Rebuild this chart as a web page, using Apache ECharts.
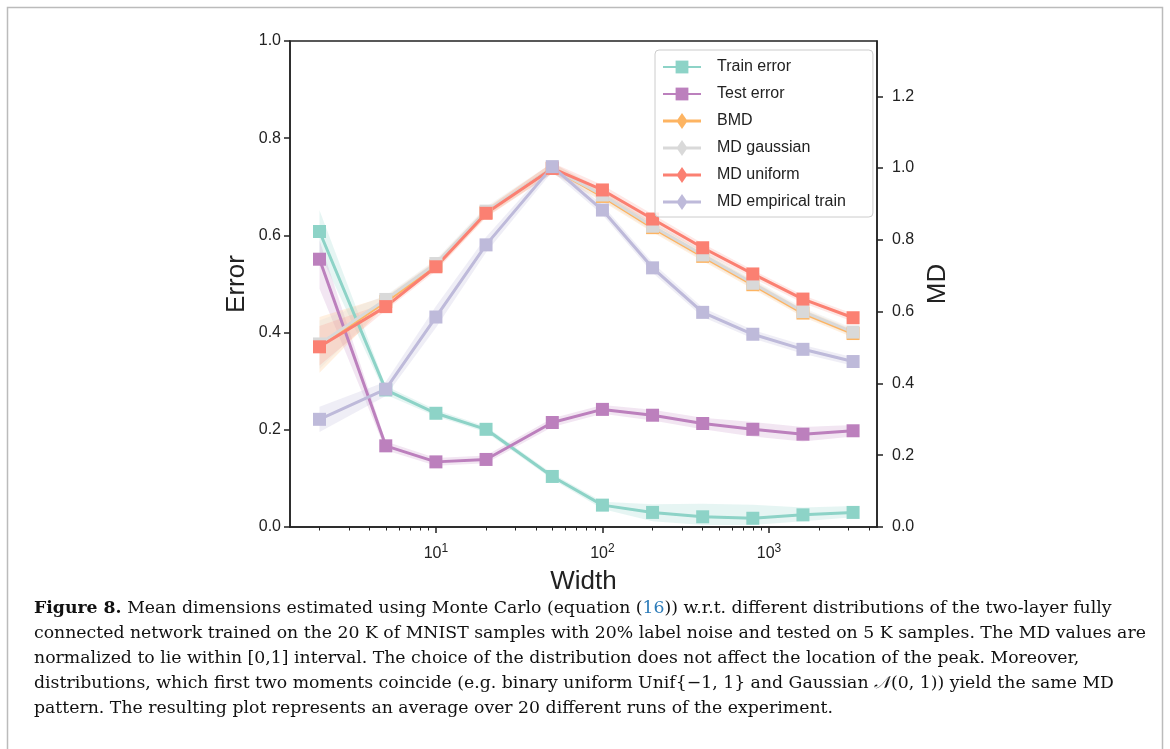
<!DOCTYPE html>
<html>
<head>
<meta charset="utf-8">
<script src="https://cdn.jsdelivr.net/npm/echarts@6/dist/echarts.min.js"></script>
<style>
  html, body { margin: 0; padding: 0; background: #fff; }
  #chart { width: 1170px; height: 749px; }
</style>
</head>
<body>
<div id="chart"></div>
<script>
// widths (x, log scale)
const widths = [2, 5, 10, 20, 50, 100, 200, 400, 800, 1600, 3200];

// error curves (left axis)
const trainError = [0.608, 0.282, 0.234, 0.201, 0.104, 0.045, 0.030, 0.021, 0.018, 0.025, 0.030];
const trainLo    = [0.565, 0.272, 0.228, 0.195, 0.098, 0.037, 0.012, 0.004, 0.004, 0.012, 0.020];
const trainHi    = [0.652, 0.290, 0.241, 0.207, 0.110, 0.052, 0.047, 0.048, 0.046, 0.040, 0.043];
const testError  = [0.551, 0.167, 0.134, 0.139, 0.215, 0.242, 0.230, 0.213, 0.201, 0.191, 0.198];
const testLo     = [0.490, 0.158, 0.126, 0.131, 0.206, 0.233, 0.219, 0.201, 0.186, 0.176, 0.186];
const testHi     = [0.590, 0.176, 0.142, 0.147, 0.224, 0.251, 0.241, 0.225, 0.216, 0.206, 0.210];

// MD curves (right axis)
const bmd         = [0.505, 0.628, 0.728, 0.876, 1.000, 0.921, 0.834, 0.754, 0.675, 0.596, 0.539];
const bmdLo       = [0.430, 0.618, 0.717, 0.864, 0.985, 0.907, 0.821, 0.741, 0.663, 0.585, 0.528];
const bmdHi       = [0.585, 0.642, 0.742, 0.888, 1.015, 0.935, 0.847, 0.767, 0.687, 0.607, 0.550];
const mdGauss     = [0.510, 0.634, 0.734, 0.880, 1.000, 0.925, 0.838, 0.758, 0.679, 0.600, 0.543];
const gaussLo     = [0.440, 0.622, 0.720, 0.868, 0.985, 0.910, 0.825, 0.745, 0.667, 0.589, 0.532];
const gaussHi     = [0.575, 0.645, 0.745, 0.892, 1.015, 0.940, 0.851, 0.771, 0.691, 0.611, 0.554];
const mdUniform   = [0.502, 0.614, 0.725, 0.874, 0.999, 0.939, 0.858, 0.778, 0.705, 0.635, 0.583];
const uniformLo   = [0.450, 0.604, 0.713, 0.862, 0.985, 0.925, 0.845, 0.766, 0.694, 0.624, 0.572];
const uniformHi   = [0.560, 0.624, 0.737, 0.886, 1.015, 0.953, 0.871, 0.790, 0.716, 0.646, 0.594];
const mdEmpirical = [0.300, 0.384, 0.585, 0.786, 1.004, 0.883, 0.722, 0.598, 0.537, 0.495, 0.461];
const empiricalLo = [0.265, 0.365, 0.555, 0.765, 0.990, 0.870, 0.708, 0.585, 0.525, 0.483, 0.449];
const empiricalHi = [0.335, 0.405, 0.615, 0.808, 1.015, 0.897, 0.736, 0.611, 0.549, 0.507, 0.473];

// ticks
const xMajorTicks = [10, 100, 1000];
const xMinorTicks = [2, 3, 4, 5, 6, 7, 8, 9, 20, 30, 40, 50, 60, 70, 80, 90,
                     200, 300, 400, 500, 600, 700, 800, 900, 2000, 3000, 4000];
const leftTicks = [0, 0.2, 0.4, 0.6, 0.8, 1.0];
const rightTicks = [0, 0.2, 0.4, 0.6, 0.8, 1.0, 1.2];

const captionLines = [
  '{b|Figure 8.} Mean dimensions estimated using Monte Carlo (equation ({l|16})) w.r.t. different distributions of the two-layer fully',
  'connected network trained on the 20 K of MNIST samples with 20% label noise and tested on 5 K samples. The MD values are',
  'normalized to lie within [0,1] interval. The choice of the distribution does not affect the location of the peak. Moreover,',
  'distributions, which first two moments coincide (e.g. binary uniform Unif{\u22121, 1} and Gaussian {i|\uD835\uDCA9}(0, 1)) yield the same MD',
  'pattern. The resulting plot represents an average over 20 different runs of the experiment.'
];

const AX = '#222';
const SERIF = '"DejaVu Serif", "Liberation Serif", serif';
const CAP = 17.3;
const pts = arr => widths.map((w, i) => [w, arr[i]]);

// shaded band between lo and hi, drawn once as a polygon through the axes
function band(name, lo, hi, color, yIdx) {
  return {
    type: 'custom', name: name, yAxisIndex: yIdx, silent: true, z: 1, clip: true,
    data: widths.map((w, i) => [w, lo[i], hi[i]]),
    renderItem: function (params, api) {
      if (params.dataIndex !== 0) return null;
      const upper = widths.map((w, i) => api.coord([w, hi[i]]));
      const lower = widths.map((w, i) => api.coord([w, lo[i]])).reverse();
      return {
        type: 'polygon',
        shape: { points: upper.concat(lower) },
        style: { fill: color, stroke: null }
      };
    }
  };
}

function curve(name, arr, color, yIdx) {
  return { type: 'line', name: name, yAxisIndex: yIdx, data: pts(arr),
    symbol: 'rect', symbolSize: 13, color: color,
    lineStyle: { width: 3, color: color }, itemStyle: { color: color },
    emphasis: { disabled: true }, z: 3 };
}

const diamondIcon = 'path://M0,6.5 L38,6.5 L38,9.5 L0,9.5 Z M19,0 L24.5,8 L19,16 L13.5,8 Z';

const graphics = [
  { type: 'rect', shape: { x: 7.5, y: 7.5, width: 1155, height: 760 },
    style: { fill: 'none', stroke: '#bbb', lineWidth: 1.5 }, silent: true }
];
captionLines.forEach((t, i) => {
  graphics.push({
    type: 'text', left: 34, top: 600 + i * 25,
    style: {
      text: t, font: CAP + 'px ' + SERIF, fill: '#111',
      rich: {
        b: { fontWeight: 'bold', fontSize: CAP, fontFamily: SERIF },
        l: { fill: '#2b7bb9', fontSize: CAP, fontFamily: SERIF },
        i: { fontStyle: 'italic', fontSize: CAP, fontFamily: SERIF }
      }
    }
  });
});

const chart = echarts.init(document.getElementById('chart'), null, { renderer: 'canvas' });
chart.setOption({
  animation: false,
  textStyle: { fontFamily: 'Liberation Sans, Arial, sans-serif' },
  grid: [
    { left: 290, right: 293, top: 41, bottom: 222, show: true, borderColor: AX, borderWidth: 1.5,
      outerBoundsMode: 'none' },
    { left: 290, right: 293, top: 41, bottom: 222, show: false, outerBoundsMode: 'none' }
  ],
  legend: {
    orient: 'vertical', left: 655, top: 50, padding: [9, 27, 7, 7],
    itemWidth: 38, itemHeight: 16, itemGap: 11,
    backgroundColor: 'rgba(255,255,255,0.85)', borderColor: '#ccc', borderWidth: 1, borderRadius: 4,
    selectedMode: false,
    textStyle: { fontSize: 16, color: '#222', fontFamily: 'Liberation Sans', padding: [0, 0, 0, 11] },
    data: [
      { name: 'Train error' },
      { name: 'Test error' },
      { name: 'BMD', icon: diamondIcon },
      { name: 'MD gaussian', icon: diamondIcon },
      { name: 'MD uniform', icon: diamondIcon },
      { name: 'MD empirical train', icon: diamondIcon }
    ]
  },
  xAxis: [
    {
      type: 'log', logBase: 10, gridIndex: 0, min: 1.33, max: 4454,
      name: 'Width', nameLocation: 'middle', nameGap: 42,
      nameTextStyle: { fontSize: 26, color: AX, fontFamily: 'Liberation Sans' },
      axisLine: { show: true, lineStyle: { color: AX, width: 1.5 } },
      axisTick: { show: true, length: 6, lineStyle: { color: AX, width: 1.5 }, customValues: xMajorTicks },
      splitLine: { show: false },
      axisLabel: {
        customValues: xMajorTicks, margin: 16, color: AX,
        formatter: v => '{b|10}{s|' + Math.round(Math.log10(v)) + '}',
        rich: {
          b: { fontSize: 16, color: AX, fontFamily: 'Liberation Sans', lineHeight: 22 },
          s: { fontSize: 12, color: AX, fontFamily: 'Liberation Sans', verticalAlign: 'top', lineHeight: 22 }
        }
      }
    },
    {
      type: 'log', logBase: 10, gridIndex: 1, min: 1.33, max: 4454,
      axisLine: { show: false },
      axisTick: { show: true, length: 3.5, lineStyle: { color: AX, width: 1 }, customValues: xMinorTicks },
      axisLabel: { show: false },
      splitLine: { show: false }
    }
  ],
  yAxis: [
    {
      type: 'value', gridIndex: 0, min: 0, max: 1, interval: 0.2, position: 'left',
      name: 'Error', nameLocation: 'middle', nameGap: 40, nameMoveOverlap: false,
      nameTextStyle: { fontSize: 26, color: AX, fontFamily: 'Liberation Sans' },
      axisLine: { show: true, lineStyle: { color: AX, width: 1.5 } },
      axisTick: { show: true, length: 6, lineStyle: { color: AX, width: 1.5 }, customValues: leftTicks },
      axisLabel: { customValues: leftTicks, fontSize: 16, color: AX, margin: 9, formatter: v => v.toFixed(1) },
      splitLine: { show: false }
    },
    {
      type: 'value', gridIndex: 0, min: 0, max: 1.354, position: 'right',
      name: 'MD', nameLocation: 'middle', nameGap: 43,
      nameTextStyle: { fontSize: 26, color: AX, fontFamily: 'Liberation Sans' },
      axisLine: { show: true, lineStyle: { color: AX, width: 1.5 } },
      axisTick: { show: true, length: 6, lineStyle: { color: AX, width: 1.5 }, customValues: rightTicks },
      axisLabel: { customValues: rightTicks, fontSize: 16, color: AX, margin: 15, formatter: v => v.toFixed(1) },
      splitLine: { show: false }
    },
    { type: 'value', gridIndex: 1, min: 0, max: 1, show: false }
  ],
  graphic: graphics,
  series: [
    band('trainBand', trainLo, trainHi, 'rgba(141,211,199,0.22)', 0),
    band('testBand', testLo, testHi, 'rgba(188,128,189,0.2)', 0),
    band('bmdBand', bmdLo, bmdHi, 'rgba(253,180,98,0.2)', 1),
    band('gaussBand', gaussLo, gaussHi, 'rgba(217,217,217,0.25)', 1),
    band('uniformBand', uniformLo, uniformHi, 'rgba(251,128,114,0.18)', 1),
    band('empBand', empiricalLo, empiricalHi, 'rgba(190,186,218,0.25)', 1),
    curve('Train error', trainError, '#8dd3c7', 0),
    curve('Test error', testError, '#bc80bd', 0),
    curve('BMD', bmd, '#fdb462', 1),
    curve('MD gaussian', mdGauss, '#d9d9d9', 1),
    curve('MD uniform', mdUniform, '#fb8072', 1),
    curve('MD empirical train', mdEmpirical, '#bebada', 1)
  ]
});
</script>
</body>
</html>
